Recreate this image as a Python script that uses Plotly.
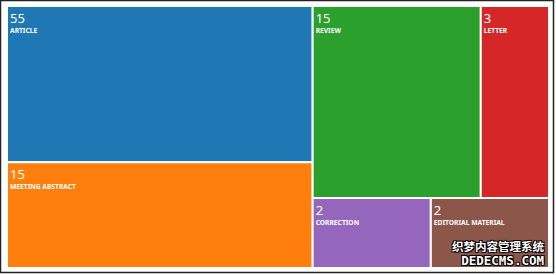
import numpy as np
import plotly.graph_objects as go

labels = ["ARTICLE", "MEETING ABSTRACT", "REVIEW", "LETTER", "CORRECTION", "EDITORIAL MATERIAL"]
counts = [55, 15, 15, 3, 2, 2]
colors = ["#1f77b4", "#ff7f0e", "#2ca02c", "#d62728", "#9467bd", "#8c564b"]

# tile area follows the natural log of the count (as in the reference)
sizes = [float(np.log(c)) for c in counts]

W, H = 556, 275
fig = go.Figure(go.Treemap(
    labels=labels,
    parents=[""] * len(labels),
    values=sizes,
    customdata=counts,
    sort=True,
    marker=dict(colors=colors, line=dict(color="white", width=2),
                pad=dict(t=0, l=0, r=0, b=0)),
    tiling=dict(squarifyratio=1.618, pad=0),
    pathbar=dict(visible=False),
    textposition="top left",
    texttemplate="<span style='font-size:13px'>%{customdata}</span><br><b><span style='font-size:6.7px'>%{label}</span></b>",
    textfont=dict(family="Noto Sans", size=7.5, color="white"),
    hoverinfo="label+text",
    domain=dict(x=[7 / W, 549 / W], y=[7 / H, 1 - 6 / H]),
))

fig.add_shape(type="rect", xref="paper", yref="paper",
              x0=0.5 / W, x1=553.5 / W, y0=1 - 272.5 / H, y1=1 - 0.5 / H,
              line=dict(color="#222222", width=1.5), fillcolor="rgba(0,0,0,0)")

shadow = "1px 1px 0px black, -1px -1px 0px black, 1px -1px 0px black, -1px 1px 0px black"
fig.add_annotation(x=546 / W, y=1 - 253 / H, xref="paper", yref="paper",
                   text=("<span style='font-family:Noto Sans CJK SC;font-size:11.5px'>织梦内容管理系统</span><br>"
                         "<span style='font-family:DejaVu Sans Mono;font-size:12.5px'>DEDECMS.COM</span>"),
                   showarrow=False, xanchor="right", yanchor="middle", align="right",
                   font=dict(family="Noto Sans CJK SC", size=10.5, color="white", weight="bold",
                             shadow=shadow))

fig.update_layout(width=W, height=H, margin=dict(l=0, r=0, t=0, b=0),
                  paper_bgcolor="white", plot_bgcolor="white")

fig.write_html("out.html")
